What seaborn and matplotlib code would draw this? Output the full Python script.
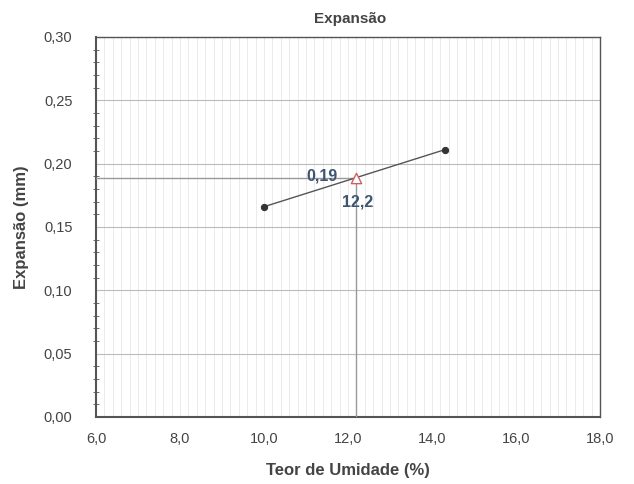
import matplotlib
matplotlib.use("Agg")
import matplotlib.pyplot as plt
import seaborn as sns
import pandas as pd
from matplotlib.ticker import MultipleLocator, FuncFormatter

umidade = [10.0, 14.3]
expansao = [0.166, 0.211]
ponto_x = [12.2]
ponto_y = [0.189]
label_x = "12,2"
label_y = "0,19"

sns.set_style("white")
plt.rcParams['font.family'] = ['Liberation Sans', 'DejaVu Sans']

fig = plt.figure(figsize=(6.34, 4.84), dpi=100)
ax = fig.add_axes([96/634, 1-417/484, 504/634, 380/484])

df = pd.DataFrame({"x": umidade, "y": expansao})
sns.lineplot(data=df, x="x", y="y", ax=ax, color="#555555", lw=1.0,
             marker="o", markersize=4.5, markeredgecolor="#333333",
             markerfacecolor="#333333", zorder=4)

# drop lines
ax.plot([6.0, ponto_x[0]], [ponto_y[0], ponto_y[0]], color="#999999", lw=1.0, zorder=3)
ax.plot([ponto_x[0], ponto_x[0]], [0.0, ponto_y[0]], color="#999999", lw=1.0, zorder=3)
sns.scatterplot(x=ponto_x, y=ponto_y, ax=ax, marker="^", s=55,
                facecolor="white", edgecolor="#d06060", linewidth=1.0, zorder=5)

ax.text(ponto_x[0] - 0.45, ponto_y[0] + 0.0015, label_y, ha="right", va="center",
        fontsize=11.5, fontweight="bold", color="#3d5670", zorder=6)
ax.text(ponto_x[0] + 0.02, ponto_y[0] - 0.019, label_x, ha="center", va="center",
        fontsize=11.5, fontweight="bold", color="#3d5670", zorder=6)

ax.set_xlim(6, 18)
ax.set_ylim(0, 0.30)
ax.xaxis.set_major_locator(MultipleLocator(2))
ax.xaxis.set_minor_locator(MultipleLocator(0.2))
ax.yaxis.set_major_locator(MultipleLocator(0.05))
ax.yaxis.set_minor_locator(MultipleLocator(0.01))
ax.xaxis.set_major_formatter(FuncFormatter(lambda v, p: f"{v:.1f}".replace(".", ",")))
ax.yaxis.set_major_formatter(FuncFormatter(lambda v, p: f"{v:.2f}".replace(".", ",")))

ax.grid(which="major", axis="y", color="#bbbbbb", lw=0.8)
ax.grid(which="minor", axis="x", color="#e6e6e6", lw=0.6)
ax.grid(which="major", axis="x", color="#e6e6e6", lw=0.6)

for s in ax.spines.values():
    s.set_color("#555555")
    s.set_linewidth(1.0)
ax.spines["left"].set_linewidth(1.5)
ax.spines["bottom"].set_linewidth(1.5)

ax.tick_params(axis="both", which="major", direction="inout", length=6,
               color="#555555", labelsize=10.5, labelcolor="#444444")
ax.tick_params(axis="y", which="minor", direction="inout", length=4, color="#555555", left=True)
ax.tick_params(axis="x", which="minor", length=0)
ax.tick_params(axis="y", which="major", pad=14)
ax.tick_params(axis="x", which="major", pad=8)

ax.set_xlabel("Teor de Umidade (%)", fontsize=12, fontweight="bold", color="#444444", va="center")
ax.xaxis.set_label_coords(0.5, (417-470)/380)
ax.set_ylabel("Expansão (mm)", fontsize=12, fontweight="bold", color="#444444", va="center")
ax.yaxis.set_label_coords((22-96)/504, 0.5)
fig.text(350/634, 1-19/484, "Expansão", fontsize=11, fontweight="bold",
         color="#444444", ha="center", va="center")

fig.savefig("out.png", dpi=100)
